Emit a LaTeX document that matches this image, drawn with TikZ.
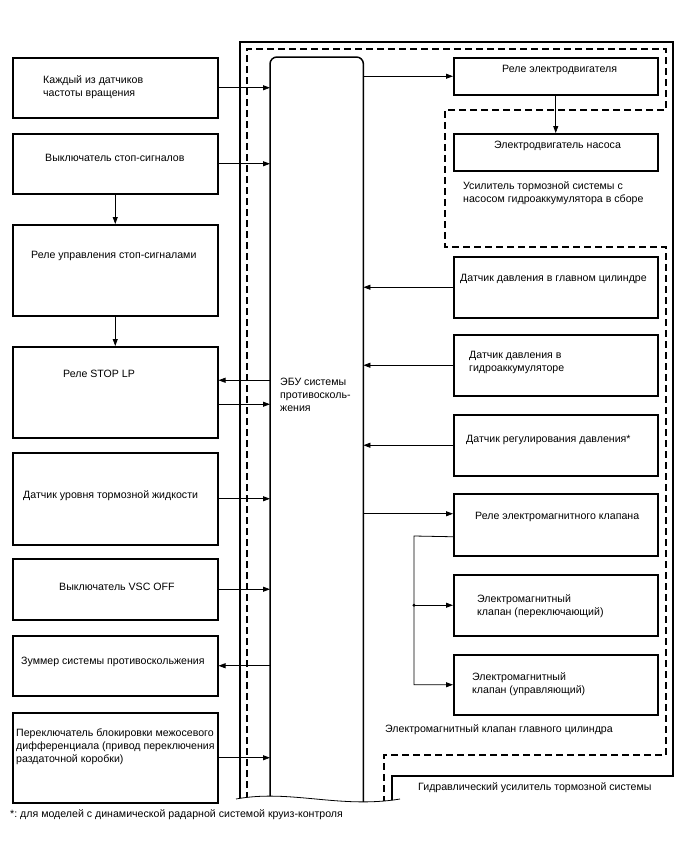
\documentclass[tikz,border=0pt]{standalone}
\usepackage{fontspec}
\setmainfont{Liberation Sans}
\usetikzlibrary{positioning,arrows.meta,calc}
\frenchspacing

\begin{document}
\begin{tikzpicture}[x=1pt,y=-1pt,
    box/.style={draw, line width=1.5pt, inner sep=0, anchor=north west},
    txt/.style={anchor=west, align=left, inner sep=0, font=\fontsize{10.6}{13}\selectfont},
    arr/.style={-{Triangle[length=7pt,width=5pt]}, line width=0.8pt},
    frame/.style={line width=1.5pt},
    dframe/.style={line width=1.5pt, dash pattern=on 7pt off 4pt}]
  \useasboundingbox (0,0) rectangle (688,852);

  % left column
  \node[box, minimum width=205pt, minimum height=60pt] (spd) at (12,57) {};
  \node[box, minimum width=205pt, minimum height=60pt] (stopsw) at (12,133) {};
  \node[box, minimum width=205pt, minimum height=91pt] (stoprel) at (12,224) {};
  \node[box, minimum width=205pt, minimum height=91pt] (stoplp) at (12,346) {};
  \node[box, minimum width=205pt, minimum height=92pt] (fluid) at (12,452) {};
  \node[box, minimum width=205pt, minimum height=61pt] (vscoff) at (12,558) {};
  \node[box, minimum width=205pt, minimum height=60pt] (buzz) at (12,635) {};
  \node[box, minimum width=205pt, minimum height=90pt] (diff) at (12,712) {};

  \node[txt] at (43,87) {Каждый из датчиков\\частоты вращения};
  \node[txt] at (45,158) {Выключатель стоп-сигналов};
  \node[txt] at (31,256) {Реле управления стоп-сигналами};
  \node[txt] at (63,374) {Реле STOP LP};
  \node[txt] at (23,496) {Датчик уровня тормозной жидкости};
  \node[txt] at (59,587) {Выключатель VSC OFF};
  \node[txt] at (21,662) {Зуммер системы противоскольжения};
  \node[txt] at (16,747) {Переключатель блокировки межосевого\\дифференциала (привод переключения\\раздаточной коробки)};

  % ECU
  \node[inner sep=0, minimum width=93pt, minimum height=760pt, anchor=north west] (ecu) at (270,57) {};
  \node[txt] at (280,395) {ЭБУ системы\\противосколь-\\жения};

  % right column
  \node[box, minimum width=204pt, minimum height=37pt] (motrel) at (453,57) {};
  \node[box, minimum width=204pt, minimum height=37pt] (pump) at (453,133) {};
  \node[box, minimum width=204pt, minimum height=61pt] (mcp) at (453,256) {};
  \node[box, minimum width=204pt, minimum height=61pt] (accp) at (453,334) {};
  \node[box, minimum width=204pt, minimum height=61pt] (preg) at (453,414) {};
  \node[box, minimum width=204pt, minimum height=62pt] (solrel) at (453,493) {};
  \node[box, minimum width=204pt, minimum height=61pt] (vlvsw) at (453,574) {};
  \node[box, minimum width=204pt, minimum height=60pt] (vlvct) at (453,654) {};

  \node[txt] at (502,70) {Реле электродвигателя};
  \node[txt] at (494,146) {Электродвигатель насоса};
  \node[txt] at (463,193) {Усилитель тормозной системы с\\насосом гидроаккумулятора в сборе};
  \node[txt] at (460,279) {Датчик давления в главном цилиндре};
  \node[txt] at (469,362) {Датчик давления в\\гидроаккумуляторе};
  \node[txt] at (466,440) {Датчик регулирования давления*};
  \node[txt] at (475,517) {Реле электромагнитного клапана};
  \node[txt] at (477,606) {Электромагнитный\\клапан (переключающий)};
  \node[txt] at (472,684) {Электромагнитный\\клапан (управляющий)};
  \node[txt] at (385,730) {Электромагнитный клапан главного цилиндра};
  \node[txt] at (418,788) {Гидравлический усилитель тормозной системы};
  \node[txt] at (10,815) {*: для моделей с динамической радарной системой круиз-контроля};

  % frames, cut at the bottom
  \begin{scope}
    \clip (0,0) -- (0,799) -- (236,799) .. controls (290,789) and (340,809) .. (400,799) -- (688,799) -- (688,0) -- cycle;
    \draw[frame] (240,810) -- (240,42) -- (673,42) -- (673,776) -- (392,776) -- (392,810);
    \draw[dframe] (247,810) -- (247,49) -- (666,49) -- (666,110) -- (445,110) -- (445,247)
      -- (666,247) -- (666,755) -- (384,755) -- (384,810);
    \draw[frame, rounded corners=7pt] (ecu.south west) -- (ecu.north west) -- (ecu.north east) -- (ecu.south east);
  \end{scope}
  \draw[line width=0.8pt] (236,799) .. controls (290,789) and (340,809) .. (400,799);

  % inputs and outputs, left
  \draw[arr] (spd.east) -- (spd.east -| ecu.west);
  \draw[arr] (stopsw.east) -- (stopsw.east -| ecu.west);
  \draw[arr] (stopsw.south) -- (stoprel.north);
  \draw[arr] (stoprel.south) -- (stoplp.north);
  \draw[arr] ($(stoplp.east -| ecu.west)+(0,-12)$) -- ($(stoplp.east)+(0,-12)$);
  \draw[arr] ($(stoplp.east)+(0,12)$) -- ($(stoplp.east -| ecu.west)+(0,12)$);
  \draw[arr] (fluid.east) -- (fluid.east -| ecu.west);
  \draw[arr] (vscoff.east) -- (vscoff.east -| ecu.west);
  \draw[arr] (buzz.east -| ecu.west) -- (buzz.east);
  \draw[arr] (diff.east) -- (diff.east -| ecu.west);

  % inputs and outputs, right
  \draw[arr] (motrel.west -| ecu.east) -- (motrel.west);
  \draw[arr] (motrel.south) -- (pump.north);
  \draw[arr] (mcp.west) -- (mcp.west -| ecu.east);
  \draw[arr] (accp.west) -- (accp.west -| ecu.east);
  \draw[arr] (preg.west) -- (preg.west -| ecu.east);
  \draw[arr] ($(solrel.west -| ecu.east)+(0,-11)$) -- ($(solrel.west)+(0,-11)$);

  \coordinate (bus) at (414,536);
  \draw[arr] ($(solrel.west)+(0,12)$) -- (bus) |- (vlvct.west);
  \draw[arr] (bus |- vlvsw.west) -- (vlvsw.west);
  \fill (bus |- vlvsw.west) circle (1.6pt);
\end{tikzpicture}
\end{document}
